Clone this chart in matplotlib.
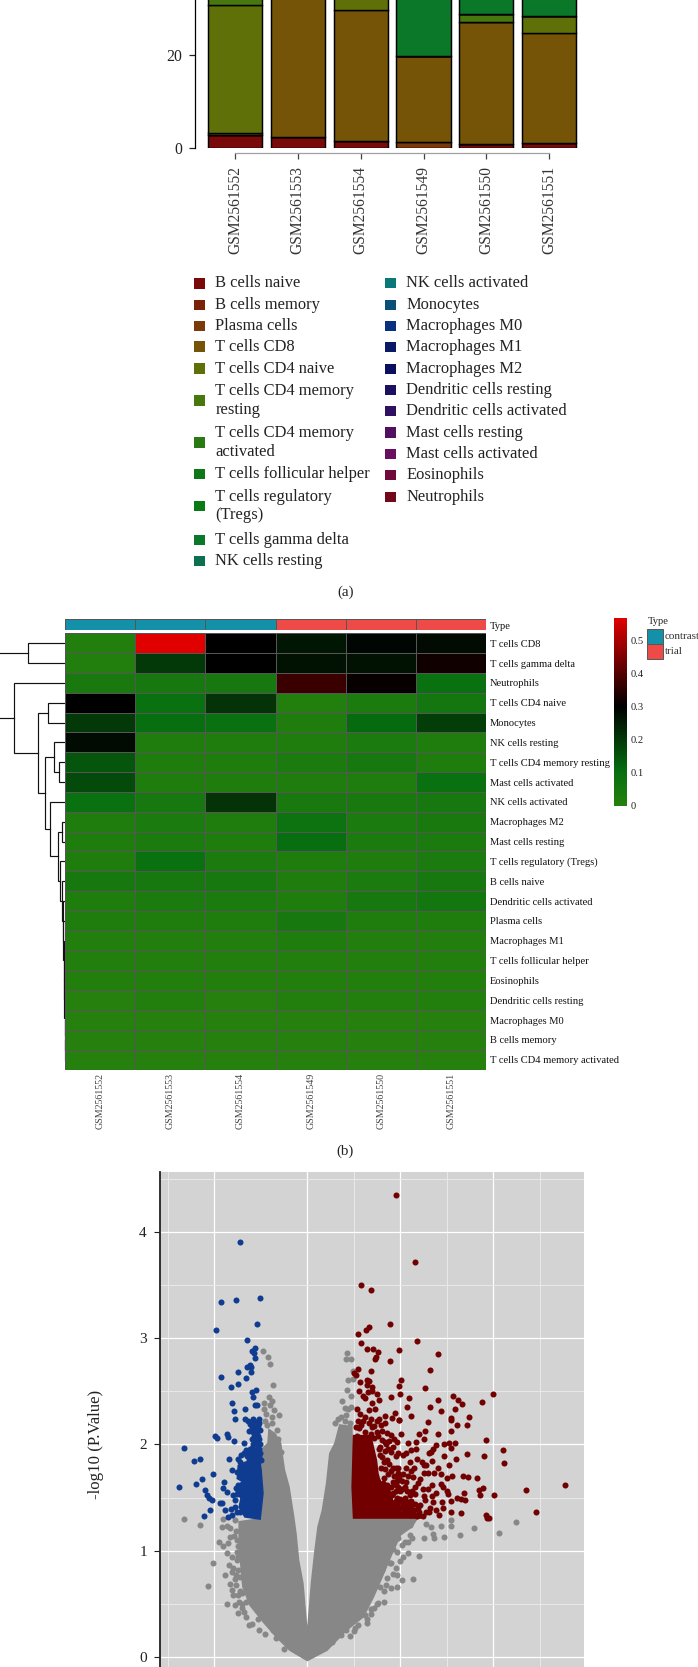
import numpy as np
import matplotlib
matplotlib.use("Agg")
import matplotlib.pyplot as plt
from matplotlib.colors import LinearSegmentedColormap, ListedColormap
from matplotlib.patches import Rectangle

plt.rcParams['font.family'] = 'Liberation Serif'

W, H = 698, 1667

# ---- panel (a) data
samples = ['GSM2561552', 'GSM2561553', 'GSM2561554', 'GSM2561549', 'GSM2561550', 'GSM2561551']
cell_types = ['B cells naive', 'B cells memory', 'Plasma cells', 'T cells CD8', 'T cells CD4 naive',
              'T cells CD4 memory\nresting', 'T cells CD4 memory\nactivated', 'T cells follicular helper',
              'T cells regulatory\n(Tregs)', 'T cells gamma delta', 'NK cells resting', 'NK cells activated',
              'Monocytes', 'Macrophages M0', 'Macrophages M1', 'Macrophages M2', 'Dendritic cells resting',
              'Dendritic cells activated', 'Mast cells resting', 'Mast cells activated', 'Eosinophils', 'Neutrophils']
type_colors = ['#7a0a0a', '#7a2208', '#7a3a0a', '#755408', '#607008', '#47780e', '#2a7a14', '#0e7818',
               '#0a7a14', '#0a7828', '#0a7050', '#0a7878', '#0a4f78', '#0a3080', '#0a1a66', '#0a0f60',
               '#1c1060', '#301060', '#500f60', '#680f60', '#700a3a', '#700a1a']
b_naive = [2.9, 2.4, 1.5, 0, 0.9, 1.2]
plasma = [0, 0, 0, 1.4, 0, 0]
t_cd8 = [0.4, 50, 28, 18.3, 26, 23.3]
t_cd4_naive = [27.2, 0, 21, 0, 0, 3.8]
t_cd4_resting = [15, 2, 2, 0, 1.7, 0]
t_gamma = [1, 20, 30, 27, 27, 28]
bar_values = {0: b_naive, 2: plasma, 3: t_cd8, 4: t_cd4_naive, 5: t_cd4_resting, 9: t_gamma}

# ---- panel (b) data
heat_rows = ['T cells CD8', 'T cells gamma delta', 'Neutrophils', 'T cells CD4 naive', 'Monocytes',
             'NK cells resting', 'T cells CD4 memory resting', 'Mast cells activated', 'NK cells activated',
             'Macrophages M2', 'Mast cells resting', 'T cells regulatory (Tregs)', 'B cells naive',
             'Dendritic cells activated', 'Plasma cells', 'Macrophages M1', 'T cells follicular helper',
             'Eosinophils', 'Dendritic cells resting', 'Macrophages M0', 'B cells memory',
             'T cells CD4 memory activated']
heat_values = [
    [0.01, 0.57, 0.30, 0.26, 0.29, 0.28],
    [0.01, 0.20, 0.30, 0.27, 0.27, 0.32],
    [0.04, 0.05, 0.05, 0.37, 0.31, 0.09],
    [0.30, 0.09, 0.21, 0.01, 0.03, 0.06],
    [0.20, 0.10, 0.09, 0.02, 0.11, 0.19],
    [0.28, 0.02, 0.02, 0.02, 0.03, 0.02],
    [0.15, 0.02, 0.02, 0.03, 0.05, 0.02],
    [0.17, 0.02, 0.02, 0.02, 0.02, 0.09],
    [0.09, 0.05, 0.21, 0.04, 0.04, 0.05],
    [0.02, 0.03, 0.02, 0.08, 0.03, 0.04],
    [0.02, 0.03, 0.02, 0.10, 0.03, 0.03],
    [0.02, 0.09, 0.03, 0.02, 0.02, 0.03],
    [0.05, 0.05, 0.05, 0.02, 0.03, 0.05],
    [0.02, 0.03, 0.03, 0.02, 0.05, 0.06],
    [0.02, 0.02, 0.02, 0.05, 0.02, 0.02],
    [0.01, 0.01, 0.01, 0.02, 0.01, 0.01],
    [0.01, 0.01, 0.01, 0.01, 0.01, 0.01],
    [0.01, 0.01, 0.01, 0.01, 0.01, 0.01],
    [0.00, 0.01, 0.00, 0.01, 0.01, 0.01],
    [0.00, 0.00, 0.00, 0.00, 0.00, 0.00],
    [0.00, 0.00, 0.00, 0.00, 0.00, 0.00],
    [0.00, 0.00, 0.00, 0.00, 0.00, 0.00],
]
sample_type = [0, 0, 0, 1, 1, 1]
type_names = ['contrast', 'trial']
type_cols = ['#1490a8', '#ee4b48']
heat_max = 0.568
cbar_ticks = [0, 0.1, 0.2, 0.3, 0.4, 0.5]
cbar_labels = ['0', '0.1', '0.2', '0.3', '0.4', '0.5']

# row clustering: (left child, right child, height), ints are rows, tuples nest
dend_tail = (20, 21, 0.002)
for leaf, hh in [(19, 0.003), (18, 0.005), (17, 0.007), (16, 0.009), (15, 0.013), (14, 0.017), (13, 0.023), (12, 0.033)]:
    dend_tail = (leaf, dend_tail, hh)
dend_lower = (8, ((9, 10, 0.03), (11, dend_tail, 0.047), 0.067), 0.147)
dend_mid = ((5, (6, 7, 0.063), 0.107), dend_lower, 0.20)
dend_right = (2, ((3, 4, 0.173), dend_mid, 0.275), 0.515)
dendrogram = ((0, 1, 0.375), dend_right, 0.72)

# ---- panel (c) data: logFC, -log10(P)
# the solid part of the cloud is an outline, single points only where they can be told apart
gray_mass_x = [0, -0.186, -0.33, -0.47, -0.615, -0.69, -0.71, -0.73, -0.73, -0.49, -0.49, -0.42, -0.41, -0.35, -0.29,
               -0.25, -0.20, -0.15, -0.125, -0.097, -0.05, 0, 0.047, 0.082, 0.118, 0.165, 0.21, 0.245, 0.30, 0.35,
               0.475, 0.50, 1.175, 1.12, 1.00, 0.92, 0.80, 0.71, 0.60, 0.42, 0.21]
gray_mass_y = [-0.03, 0.066, 0.19, 0.33, 0.49, 0.66, 0.85, 1.04, 1.27, 1.30, 1.95, 2.01, 2.135, 2.10, 2.01,
               1.76, 1.60, 1.32, 1.16, 0.91, 0.69, 0.175, 0.69, 0.975, 1.225, 1.38, 1.63, 1.915, 2.01, 2.18,
               2.165, 1.31, 1.30, 1.225, 1.15, 1.00, 0.75, 0.57, 0.38, 0.255, 0.066]
gray_x = [-1.33, -1.15, -0.91, -0.92, -0.86, -0.83, -0.78, -0.77, -0.945, -0.905, -0.85, -0.83, -0.74, -0.76, -0.86,
          -0.815, -1.01, -0.84, -0.76, -0.795, -0.885, -0.815, -0.77, -1.065, -0.83, -0.72, -0.815, -0.74, -0.705,
          -0.865, -0.78, -0.655, -0.705, -0.74, -0.595, -0.535, -0.515, -0.455, -0.335, -0.25, -0.365,
          -0.475, -0.425, -0.40, -0.37, -0.41, -0.47, -0.40, -0.385, -0.47, -0.355, -0.305, -0.44, -0.385,
          0.43, 0.42, 0.465, 0.49, 0.44, 0.495, 0.43, 0.47, 0.375, 0.405, 0.44, 0.475, 0.36, 0.42,
          1.28, 1.33, 1.44, 1.54, 1.55, 1.79, 2.24, 1.645, 2.065, 1.47, 1.36, 1.25, 1.35, 1.13, 1.205, 1.14, 1.03,
          1.015, 0.96, 0.925, 0.96, 0.90, 0.845, 0.825, 0.755, 0.68, 0.64, 0.62, 0.51, 0.42, 0.36, 0.27,
          0.96, 1.015, 1.085, 1.10, 0.98, 0.925, 0.89, 0.80, 0.71, 0.82, 0.87, 1.015, 1.10,
          -0.79, -0.76, -0.74, -0.78, -0.75, -0.72, -0.80, -0.77, -0.73, -0.70, -0.68, -0.66, -0.63,
          -0.45, -0.43, -0.38, -0.33, -0.31, -0.28, 0.30, 0.33, 0.38, 0.40, 0.46,
          1.05, 1.08, 1.00, 0.95, 0.90, 0.86, 0.82, 0.78, 0.75, 0.72, 0.68, 0.64, 0.55, 0.50, 0.46]
gray_y = [1.295, 1.245, 1.295, 1.225, 1.23, 1.21, 1.29, 1.185, 1.08, 1.045, 1.075, 1.125, 1.04, 0.99, 0.975,
          0.94, 0.885, 0.87, 0.91, 0.835, 0.77, 0.80, 0.77, 0.67, 0.69, 0.755, 0.63, 0.585, 0.60,
          0.50, 0.49, 0.515, 0.46, 0.415, 0.315, 0.355, 0.255, 0.22, 0.175, 0.08, 0.255,
          2.88, 2.825, 2.76, 2.555, 2.45, 2.385, 2.37, 2.41, 2.33, 2.32, 2.275, 2.29, 2.26,
          2.86, 2.80, 2.80, 2.69, 2.605, 2.615, 2.51, 2.455, 2.41, 2.34, 2.33, 2.355, 2.255, 2.275,
          1.255, 1.22, 1.235, 1.29, 1.23, 1.21, 1.27, 1.145, 1.17, 1.13, 1.12, 1.115, 1.16, 1.115, 0.95, 0.735, 0.945,
          0.725, 0.77, 0.785, 0.655, 0.65, 0.68, 0.52, 0.505, 0.45, 0.355, 0.395, 0.275, 0.255, 0.205, 0.14,
          0.99, 1.05, 1.085, 1.145, 1.115, 1.02, 0.88, 0.82, 0.69, 1.05, 1.16, 1.225, 1.24,
          1.14, 1.10, 0.95, 0.73, 0.82, 0.62, 0.58, 0.68, 0.52, 0.50, 0.42, 0.38, 0.30,
          2.22, 2.18, 2.20, 2.14, 2.05, 1.93, 2.20, 2.24, 2.14, 2.22, 2.20,
          1.08, 0.98, 0.90, 0.84, 0.88, 0.74, 0.62, 0.66, 0.50, 0.46, 0.40, 0.32, 0.30, 0.24, 0.20]

blue_mass_x = [-0.67, -0.51, -0.48, -0.50, -0.52, -0.74, -0.75, -0.69, -0.76, -0.71, -0.73]
blue_mass_y = [1.32, 1.30, 1.54, 1.76, 1.88, 1.80, 1.68, 1.65, 1.57, 1.49, 1.41]
blue_x = [-0.72, -0.93, -0.77, -0.51, -0.98, -0.54, -0.65, -0.56, -0.60, -0.57, -0.56, -0.62, -0.645, -0.61, -0.74,
          -0.61, -0.93, -0.66, -0.75, -0.82, -0.55, -0.59, -0.58, -0.81, -0.56, -0.545, -0.67, -0.785, -0.78, -0.67,
          -0.58, -0.52, -0.99, -0.97, -0.86, -0.85, -0.785, -0.68, -1.33, -0.71, -0.62, -1.15, -1.22, -0.84, -0.75,
          -0.67, -0.81, -1.01, -1.13, -1.20, -1.38, -0.90, -0.91, -1.10, -0.86, -1.08, -1.06, -1.03, -0.94, -0.915,
          -1.05, -0.89, -0.82, -1.11, -0.855, -0.81, -0.76, -0.78, -0.76, -0.77, -0.74,
          -0.64, -0.62, -0.58, -0.55, -0.52, -0.60, -0.56, -0.53, -0.63, -0.58, -0.54, -0.51, -0.57, -0.53, -0.60,
          -0.55, -0.52, -0.58, -0.54, -0.51, -0.60, -0.56, -0.52, -0.63, -0.58, -0.54, -0.51, -0.65, -0.60, -0.56,
          -0.52, -0.63, -0.58, -0.54, -0.50, -0.66,
          -0.72, -0.70, -0.66, -0.78, -0.74, -0.80, -0.70, -0.68, -0.76, -0.72]
blue_y = [3.90, 3.34, 3.36, 3.38, 3.08, 3.13, 2.98, 2.91, 2.88, 2.86, 2.81, 2.75, 2.73, 2.73, 2.68,
          2.68, 2.63, 2.62, 2.57, 2.54, 2.51, 2.49, 2.45, 2.39, 2.37, 2.37, 2.33, 2.31, 2.24, 2.24,
          2.24, 2.24, 2.08, 2.06, 2.10, 2.07, 2.03, 2.01, 1.97, 1.90, 1.96, 1.86, 1.84, 1.86, 1.86,
          1.82, 1.76, 1.72, 1.67, 1.63, 1.60, 1.65, 1.59, 1.57, 1.55, 1.52, 1.50, 1.48, 1.445, 1.45,
          1.38, 1.38, 1.39, 1.33, 1.32, 1.335, 1.36, 1.48, 1.53, 1.59, 1.62,
          2.22, 2.19, 2.20, 2.21, 2.20, 2.16, 2.15, 2.17, 2.13, 2.12, 2.12, 2.14, 2.08, 2.08, 2.05,
          2.03, 2.05, 2.00, 1.99, 2.00, 1.97, 1.95, 1.96, 1.92, 1.91, 1.91, 1.92, 1.89, 1.88, 1.87,
          1.88, 1.85, 1.84, 1.84, 1.85, 1.81,
          1.36, 1.44, 1.95, 1.41, 1.56, 1.52, 1.63, 1.92, 1.74, 1.83]

red_mass_x = [0.50, 1.22, 1.22, 1.00, 0.93, 0.88, 0.80, 0.76, 0.74, 0.70, 0.68, 0.50, 0.485]
red_mass_y = [1.31, 1.31, 1.34, 1.36, 1.42, 1.58, 1.62, 1.70, 1.85, 2.00, 2.08, 2.08, 1.60]
red_points = [
    (0.95, 4.35), (1.16, 3.72), (0.58, 3.50), (0.69, 3.45), (0.89, 3.13), (0.66, 3.10), (0.63, 3.075), (0.54, 3.04),
    (1.18, 2.975), (0.58, 2.95), (0.64, 2.90), (0.71, 2.90), (0.76, 2.865), (0.99, 2.885), (1.41, 2.85), (0.74, 2.825),
    (0.73, 2.80), (0.89, 2.78), (1.32, 2.70), (0.55, 2.71), (0.69, 2.69), (0.50, 2.67), (0.52, 2.655), (1.01, 2.61),
    (0.57, 2.59), (0.64, 2.605), (0.66, 2.60), (0.64, 2.56), (0.70, 2.54), (0.99, 2.55), (1.27, 2.535), (0.56, 2.505),
    (0.70, 2.505), (0.655, 2.49), (0.75, 2.47), (1.00, 2.47), (1.995, 2.47), (0.595, 2.46), (0.62, 2.44), (0.90, 2.445),
    (1.09, 2.435), (1.57, 2.46), (1.62, 2.42), (0.775, 2.415), (1.41, 2.42), (1.66, 2.38), (1.88, 2.395), (0.70, 2.39),
    (1.07, 2.355), (1.32, 2.35), (1.59, 2.335), (0.73, 2.33), (0.66, 2.32), (1.44, 2.31), (0.94, 2.30), (0.53, 2.33),
    (0.57, 2.29), (0.84, 2.27), (1.11, 2.27), (1.74, 2.26), (0.62, 2.26), (0.91, 2.25), (0.77, 2.24), (0.985, 2.23),
    (1.54, 2.245), (1.30, 2.21), (1.54, 2.23), (1.61, 2.185), (1.72, 2.185), (0.84, 2.20), (0.99, 2.23), (1.27, 2.125),
    (1.54, 2.125), (1.41, 2.10), (1.20, 2.10), (1.01, 2.10), (1.92, 2.04), (1.25, 2.05), (1.17, 2.02), (1.08, 2.01),
    (0.96, 2.02), (1.38, 1.99), (1.47, 2.00), (1.52, 2.01), (1.59, 2.01), (1.54, 1.97), (1.355, 1.96), (1.165, 1.96),
    (2.10, 1.95), (1.33, 1.93), (1.31, 1.915), (1.72, 1.91), (1.90, 1.89), (1.47, 1.89), (1.595, 1.865), (0.98, 1.915),
    (1.03, 1.90), (2.12, 1.825), (1.10, 1.83), (1.23, 1.83), (1.25, 1.805), (1.28, 1.805), (1.52, 1.805), (0.98, 1.775),
    (1.25, 1.73), (1.30, 1.735), (1.36, 1.735), (1.555, 1.70), (1.67, 1.705), (1.73, 1.69), (1.82, 1.685), (1.14, 1.69),
    (1.21, 1.67), (1.19, 1.64), (1.06, 1.65), (0.81, 1.64), (1.34, 1.62), (1.44, 1.63), (1.46, 1.60), (2.77, 1.615),
    (2.35, 1.575), (1.89, 1.59), (1.85, 1.57), (1.86, 1.52), (2.01, 1.52), (1.69, 1.545), (1.50, 1.565), (1.51, 1.53),
    (1.07, 1.565), (1.10, 1.52), (0.925, 1.54), (1.25, 1.515), (1.27, 1.48), (1.34, 1.51), (1.605, 1.50), (1.65, 1.49),
    (1.70, 1.475), (1.54, 1.47), (1.35, 1.455), (1.445, 1.455), (1.025, 1.46), (0.98, 1.45), (1.11, 1.42), (1.21, 1.43),
    (1.19, 1.40), (1.455, 1.40), (0.90, 1.425), (1.54, 1.365), (1.305, 1.36), (1.65, 1.35), (2.46, 1.36), (1.92, 1.34),
    (1.93, 1.31), (1.95, 1.305), (1.05, 1.38), (1.12, 1.335), (1.18, 1.325),
    (0.60, 2.22), (0.66, 2.20), (0.72, 2.17), (0.56, 2.15), (0.62, 2.12), (0.68, 2.10), (0.75, 2.12), (0.80, 2.13),
    (0.86, 2.11), (0.90, 2.09), (0.53, 2.08), (0.58, 2.05), (0.64, 2.04), (0.72, 2.06), (0.80, 2.04), (0.85, 2.00),
    (0.88, 2.03), (0.92, 1.98), (0.77, 1.96), (0.84, 1.94), (0.90, 1.93), (0.95, 1.89), (0.80, 1.88), (0.86, 1.85),
    (0.92, 1.78), (0.87, 1.72), (0.93, 1.70), (0.98, 1.68), (1.02, 1.66), (0.90, 1.60), (0.95, 1.62), (1.00, 1.56),
    (0.96, 1.50), (1.03, 1.42), (1.08, 1.40), (0.92, 1.44), (0.88, 1.38), (0.98, 1.37),
    (0.78, 1.90), (0.82, 1.83), (0.79, 1.78), (0.84, 1.77), (0.88, 1.82), (0.90, 1.75), (0.95, 1.78), (0.97, 1.73),
    (0.99, 1.69), (0.92, 1.65), (0.96, 1.66), (1.05, 1.60), (1.02, 1.58), (0.98, 1.60), (0.95, 1.56), (0.91, 1.52),
    (0.95, 1.47), (1.00, 1.49), (1.05, 1.50), (1.08, 1.46), (1.12, 1.47), (1.16, 1.44), (1.06, 1.43), (0.96, 1.42),
    (0.90, 1.46), (1.00, 1.40), (1.04, 1.36), (1.10, 1.37), (1.15, 1.38), (1.20, 1.36), (1.24, 1.33), (0.78, 1.98),
    (0.83, 2.02), (0.76, 2.08), (0.70, 2.16), (0.79, 2.18), (0.75, 2.22), (0.68, 2.24), (0.58, 2.18), (0.52, 2.16),
    (0.54, 2.22), (0.87, 1.96), (0.93, 2.05), (0.74, 1.70), (0.82, 1.68), (0.80, 1.58), (0.86, 1.62), (1.13, 1.56),
    (1.16, 1.53), (1.03, 1.72), (1.06, 1.78), (1.15, 1.78), (1.12, 1.75),
    (1.28, 1.36), (1.32, 1.40), (1.38, 1.38), (1.42, 1.34), (1.30, 1.58), (1.24, 1.58), (1.38, 1.54), (1.16, 1.60),
    (1.08, 1.70), (1.18, 1.86), (1.06, 1.92), (1.12, 1.95), (1.40, 1.78), (1.44, 1.72), (1.50, 1.68), (1.34, 1.84),
]
vol_major_x = [-1, 0, 1, 2]
vol_minor_x = [-1.5, 0.5, 1.5, 2.5]
vol_major_y = [0, 1, 2, 3, 4]
vol_minor_y = [0.5, 1.5, 2.5, 3.5, 4.5]


def axes_px(x0, y0, x1, y1):
    return fig.add_axes([x0 / W, 1 - y1 / H, (x1 - x0) / W, (y1 - y0) / H])


def text_px(x, y, s, **kw):
    kw.setdefault('va', 'center')
    return fig.text(x / W, 1 - y / H, s, **kw)


def rect_px(x0, y0, x1, y1, color, edge='none', lw=0):
    fig.add_artist(Rectangle((x0 / W, 1 - y1 / H), (x1 - x0) / W, (y1 - y0) / H, facecolor=color,
                             edgecolor=edge, linewidth=lw, transform=fig.transFigure))


fig = plt.figure(figsize=(W / 100, H / 100), dpi=100)

# ---- (a) stacked bars, cut off at the top of the image
ax = axes_px(195, 0, 590, 148.5)
bottom = np.zeros(len(samples))
xpos = np.arange(len(samples))
for i in range(len(cell_types)):
    vals = np.array(bar_values.get(i, [0] * len(samples)), dtype=float)
    ax.bar(xpos, vals, bottom=bottom, width=0.86, color=type_colors[i], edgecolor='black', linewidth=1.05)
    bottom += vals
ax.set_xlim(-0.637, 5.65)
ax.set_ylim(0, 31.6)
for s in ['top', 'right']:
    ax.spines[s].set_visible(False)
ax.spines['left'].set_linewidth(0.9)
ax.spines['bottom'].set_position(('outward', 3.2))
ax.spines['bottom'].set_bounds(0, 5)
ax.spines['bottom'].set_color('#a0a0a0')
ax.spines['bottom'].set_linewidth(0.9)
ax.set_yticks([0, 20])
ax.tick_params(axis='y', length=4.6, width=0.9, labelsize=11.3, pad=4.5, colors='#222222')
ax.set_xticks(xpos)
ax.set_xticklabels(samples, rotation=90, fontsize=11.2, color='#333333')
ax.tick_params(axis='x', length=4.5, width=0.9, color='#444444', pad=5)

legend_y = [283.3, 305, 326, 346.7, 368.7, 400.5, 442.5, 474, 506, 540, 561,
            283, 305, 326, 347, 369, 390, 411, 432.7, 454, 475, 497]
for i, name in enumerate(cell_types):
    col_x = 194 if i < 11 else 385
    rect_px(col_x, legend_y[i] - 5.3, col_x + 10.6, legend_y[i] + 5.3, type_colors[i])
    text_px(col_x + 21.3, legend_y[i], name, fontsize=11.9, color='#222222', linespacing=1.22)
text_px(346, 592.7, '(a)', fontsize=10.8, ha='center', color='#222222')

# ---- (b) heatmap
green_black_red = LinearSegmentedColormap.from_list(
    'gbr', [(0, '#25800e'), (0.18, '#066f10'), (0.53, '#000000'), (1, '#e00000')])
ax = axes_px(65, 633.3, 486.3, 1069.7)
mesh = ax.pcolormesh(np.array(heat_values), cmap=green_black_red, vmin=0, vmax=heat_max,
                     edgecolors='#565656', linewidth=0.7)
ax.set_ylim(len(heat_rows), 0)
for s in ax.spines.values():
    s.set_visible(False)
ax.yaxis.tick_right()
ax.set_yticks(np.arange(len(heat_rows)) + 0.5)
ax.set_yticklabels(heat_rows, fontsize=7.6, color='#111111')
ax.set_xticks(np.arange(len(samples)) + 0.5)
ax.set_xticklabels(samples, rotation=90, fontsize=7.2, color='#444444')
ax.tick_params(length=0, pad=2.5)

ax = axes_px(65, 619.3, 486.3, 629.7)
ax.pcolormesh(np.array([sample_type]), cmap=ListedColormap(type_cols), vmin=0, vmax=1,
              edgecolors='#565656', linewidth=0.7)
ax.set_axis_off()
text_px(490, 626.7, 'Type', fontsize=7.6, color='#111111')

cax = axes_px(614, 618, 627, 805.7)
cb = fig.colorbar(mesh, cax=cax)
cb.outline.set_visible(False)
cb.set_ticks(cbar_ticks)
cb.set_ticklabels(cbar_labels)
cb.ax.tick_params(length=0, pad=2.8, labelsize=7.6, labelcolor='#222222')

text_px(647.7, 621, 'Type', fontsize=7.6, color='#222222')
for i, name in enumerate(type_names):
    rect_px(647, 629.3 + i * 14.7, 662.7, 644 + i * 14.7, type_cols[i], edge='#565656', lw=0.7)
    text_px(665, 636.7 + i * 15, name, fontsize=8, color='#333333')
text_px(345, 1151.7, '(b)', fontsize=10.8, ha='center', color='#222222')

# row dendrogram, drawn from the merge list
ax = axes_px(0, 633.3, 65, 1069.7)


def draw_node(node):
    if isinstance(node, int):
        return node + 0.5, 0
    ya, ha = draw_node(node[0])
    yb, hb = draw_node(node[1])
    h = node[2]
    ax.plot([ha, h, h, hb], [ya, ya, yb, yb], color='#111111', lw=0.85, solid_joinstyle='miter')
    return (ya + yb) / 2, h


draw_node(dendrogram)
ax.set_xlim(0.65, 0)
ax.set_ylim(len(heat_rows), 0)
ax.set_axis_off()

# ---- (c) volcano plot, cut off at the bottom of the image
ax = axes_px(160, 1172, 584, 1667)
ax.set_facecolor('#d3d3d3')
ax.set_axisbelow(True)
ax.set_xlim(-1.584, 2.975)
ax.set_ylim(-0.094, 4.5625)
ax.set_xticks(vol_major_x)
ax.set_xticks(vol_minor_x, minor=True)
ax.set_yticks(vol_major_y)
ax.set_yticks(vol_minor_y, minor=True)
ax.grid(which='major', color='white', lw=0.9)
ax.grid(which='minor', color='#e9e9e9', lw=0.7)
ax.tick_params(axis='x', which='both', length=0, labelbottom=False)
ax.tick_params(axis='y', which='minor', length=0)
ax.tick_params(axis='y', which='major', length=4, width=0.8, labelsize=11, pad=5.5, colors='#222222')
for s in ['top', 'right', 'bottom']:
    ax.spines[s].set_visible(False)
ax.spines['left'].set_linewidth(1.3)
ax.spines['left'].set_color('#222222')

dot = 19
ax.fill(gray_mass_x, gray_mass_y, color='#878787', lw=1.5, zorder=2)
ax.scatter(gray_x, gray_y, s=dot, color='#878787', linewidths=0, zorder=3)
ax.fill(blue_mass_x, blue_mass_y, color='#0f3c91', lw=1.5, zorder=4)
ax.scatter(blue_x, blue_y, s=dot, color='#0f3c91', linewidths=0, zorder=5)
ax.fill(red_mass_x, red_mass_y, color='#720000', lw=1.5, zorder=4)
ax.scatter([p[0] for p in red_points], [p[1] for p in red_points], s=dot, color='#720000', linewidths=0, zorder=5)
text_px(96, 1444, '-log10 (P.Value)', fontsize=12.1, rotation=90, ha='center', color='#222222')

fig.savefig('out.png', dpi=100)
